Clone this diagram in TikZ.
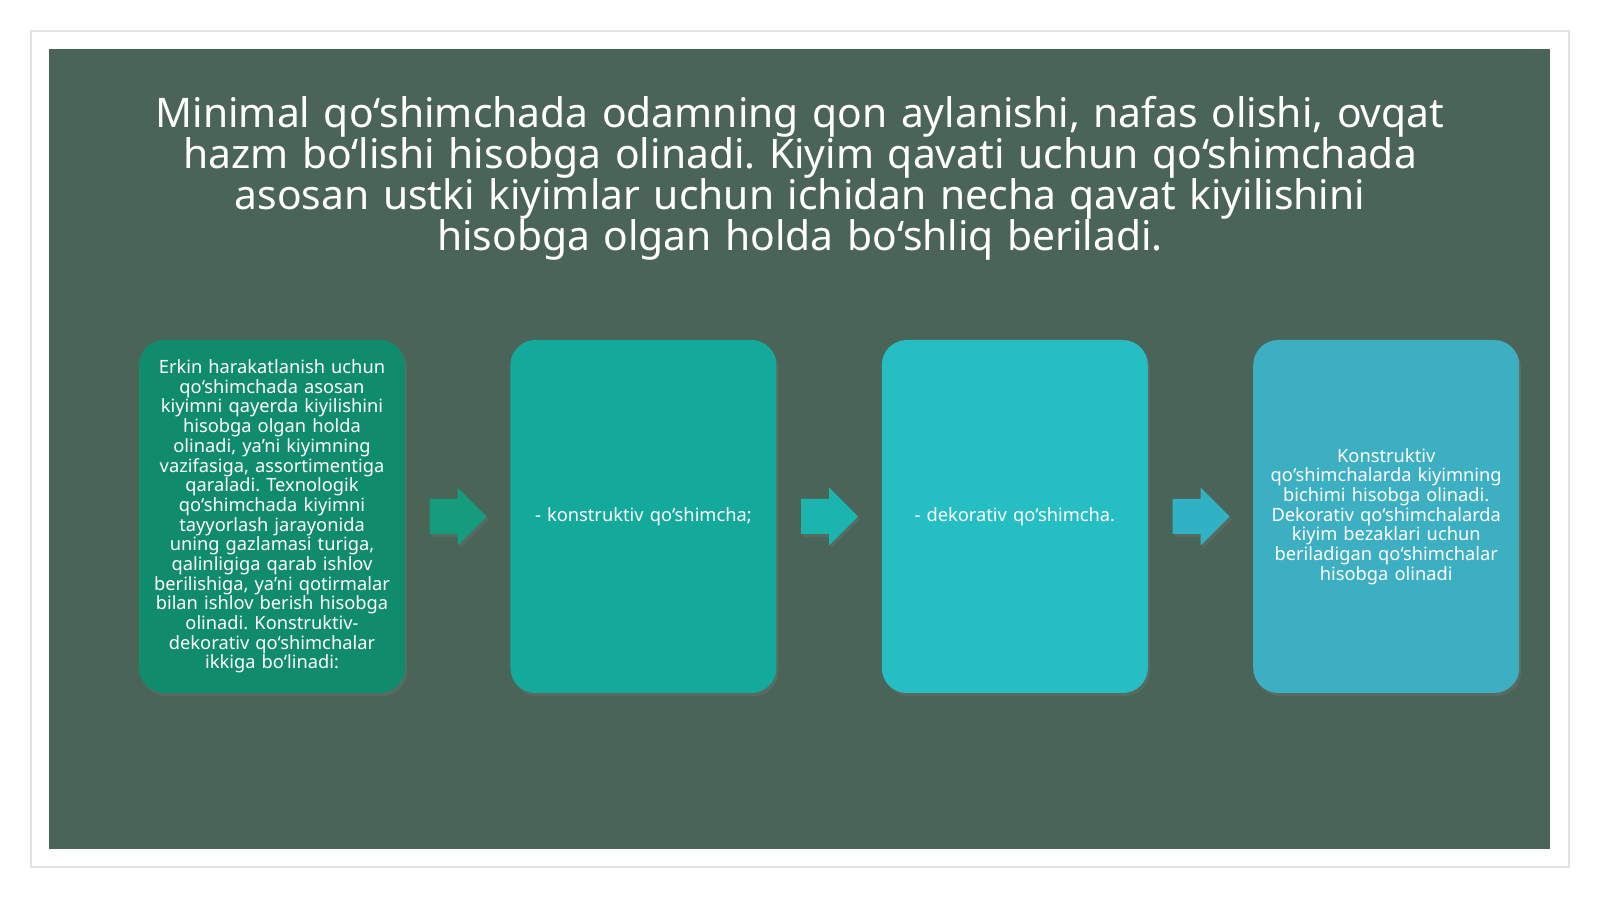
\documentclass[tikz,border=0pt]{standalone}
\usepackage{fontspec}
\setmainfont{Noto Sans}
\frenchspacing
\usetikzlibrary{positioning,calc,shadows}
\definecolor{slidebg}{RGB}{74,100,88}
\definecolor{framegrey}{RGB}{226,226,226}
\definecolor{stepA}{RGB}{16,140,108}
\definecolor{stepB}{RGB}{19,170,155}
\definecolor{stepC}{RGB}{36,190,195}
\definecolor{stepD}{RGB}{60,175,195}
\definecolor{arrowA}{RGB}{20,156,124}
\definecolor{arrowB}{RGB}{28,180,175}
\definecolor{arrowC}{RGB}{48,178,196}
\begin{document}
\begin{tikzpicture}
        \tikzstyle{softshadow}=[drop shadow={opacity=0.25,shadow xshift=0.02cm,shadow yshift=-0.03cm}]
        \tikzstyle{stepbox}=[rounded corners=0.25cm, minimum width=2.66cm, minimum height=3.53cm, text width=2.6cm, align=center, inner sep=0pt, text=white, font=\fontsize{5.2}{5.6}\selectfont, softshadow]
        \tikzstyle{headline}=[text width=15cm, align=center, text=white, font=\fontsize{11.6}{11.7}\selectfont]
        \useasboundingbox (0,0) rectangle (16,-8.99);
        \fill[white] (0,0) rectangle (16,-8.99);
        \draw[framegrey, line width=0.015cm] (0.31,-0.31) rectangle (15.69,-8.67);
        \fill[slidebg] (0.49,-0.49) rectangle (15.50,-8.49);
        \node[headline] (title) at (8.0,-1.78) {Minimal qo‘shimchada odamning qon aylanishi, nafas olishi, ovqat\\ hazm bo‘lishi hisobga olinadi. Kiyim qavati uchun qo‘shimchada\\ asosan ustki kiyimlar uchun ichidan necha qavat kiyilishini\\ hisobga olgan holda bo‘shliq beriladi.};
        \node[stepbox, fill=stepA] (erkin) at (2.72,-5.165) {Erkin harakatlanish uchun\\ qo‘shimchada asosan\\ kiyimni qayerda kiyilishini\\ hisobga olgan holda\\ olinadi, ya’ni kiyimning\\ vazifasiga, assortimentiga\\ qaraladi. Texnologik\\ qo‘shimchada kiyimni\\ tayyorlash jarayonida\\ uning gazlamasi turiga,\\ qalinligiga qarab ishlov\\ berilishiga, ya’ni qotirmalar\\ bilan ishlov berish hisobga\\ olinadi. Konstruktiv-\\ dekorativ qo‘shimchalar\\ ikkiga bo‘linadi:};
        \node[stepbox, fill=stepB, right=1.04cm of erkin] (konstruktiv) {- konstruktiv qo‘shimcha;};
        \node[stepbox, fill=stepC, right=1.04cm of konstruktiv] (dekorativ) {- dekorativ qo‘shimcha.};
        \node[stepbox, fill=stepD, right=1.04cm of dekorativ] (bichim) {Konstruktiv\\ qo‘shimchalarda kiyimning\\ bichimi hisobga olinadi.\\ Dekorativ qo‘shimchalarda\\ kiyim bezaklari uchun\\ beriladigan qo‘shimchalar\\ hisobga olinadi};
        % block arrows between the boxes
        \foreach \from/\to/\col in {erkin/konstruktiv/arrowA, konstruktiv/dekorativ/arrowB, dekorativ/bichim/arrowC}
            \fill[\col, softshadow, shift={($(\from.east)!0.5!(\to.west)$)}] (-0.28,0.175) -- (0,0.175) -- (0,0.29) -- (0.29,0) -- (0,-0.29) -- (0,-0.175) -- (-0.28,-0.175) -- cycle;
\end{tikzpicture}
\end{document}
